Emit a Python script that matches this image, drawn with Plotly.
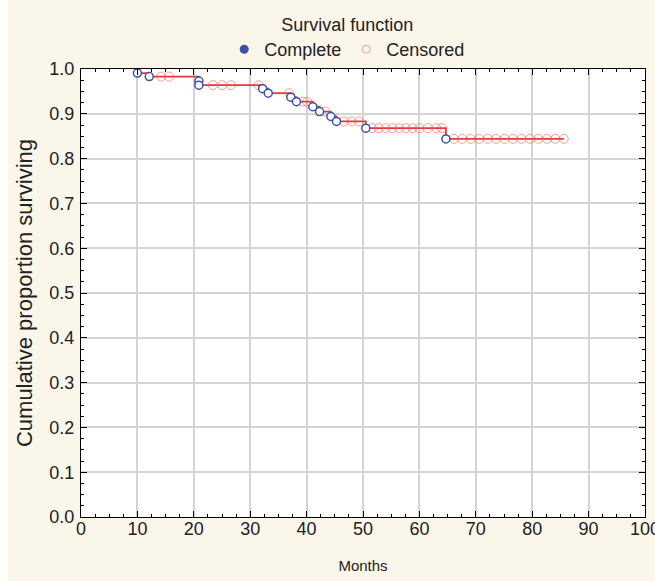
import plotly.graph_objects as go

# ---- data ----
event_months = [10.0, 12.1, 20.9, 20.9, 32.2, 33.2, 37.2, 38.2, 41.1, 42.3, 44.3, 45.3, 50.5, 64.7]
event_surv = [0.991, 0.983, 0.973, 0.964, 0.956, 0.946, 0.937, 0.927, 0.916, 0.905, 0.894, 0.883, 0.868, 0.844]

last_followup = 85.6

censored_months = [14.2, 15.6, 23.4, 25.0, 26.6, 31.5, 36.9, 39.3, 40.1, 43.3,
                   46.6, 48.0, 49.3,
                   51.6, 52.8, 54.0, 55.2, 56.4, 57.6, 58.8, 60.0, 61.5, 63.0, 64.0,
                   66.1, 67.6, 69.1, 70.6, 72.1, 73.6, 75.1, 76.6, 78.1, 79.6, 81.1, 82.6, 84.1, 85.6]
censored_surv = [0.983, 0.983, 0.964, 0.964, 0.964, 0.964, 0.946, 0.927, 0.927, 0.905,
                 0.883, 0.883, 0.883,
                 0.868, 0.868, 0.868, 0.868, 0.868, 0.868, 0.868, 0.868, 0.868, 0.868, 0.868,
                 0.844, 0.844, 0.844, 0.844, 0.844, 0.844, 0.844, 0.844, 0.844, 0.844, 0.844, 0.844, 0.844, 0.844]

x_ticks = [0, 10, 20, 30, 40, 50, 60, 70, 80, 90, 100]
y_ticks = [0.0, 0.1, 0.2, 0.3, 0.4, 0.5, 0.6, 0.7, 0.8, 0.9, 1.0]

title_text = "Survival function"
x_title = "Months"
y_title = "Cumulative proportion surviving"

RED = "#e8383a"
BLUE = "#3a52a6"
CENS = "rgba(238,80,80,0.55)"
CREAM = "#fbf6ea"
FONT = "Liberation Sans, Arial, sans-serif"

step_x = event_months + [last_followup]
step_y = event_surv + [event_surv[-1]]

fig = go.Figure()

fig.add_trace(go.Scatter(
    x=step_x, y=step_y, mode="lines", line=dict(color=RED, width=1.8, shape="hv"),
    showlegend=False, hoverinfo="skip"))

fig.add_trace(go.Scatter(
    x=censored_months, y=censored_surv, mode="markers",
    marker=dict(symbol="circle-open", size=9, color=CENS, line=dict(width=1)),
    showlegend=False))

fig.add_trace(go.Scatter(
    x=event_months, y=event_surv, mode="markers",
    marker=dict(symbol="circle", size=8, color="white", line=dict(color=BLUE, width=1.5)),
    showlegend=False))

# legend-only entries
fig.add_trace(go.Scatter(
    x=[None], y=[None], mode="markers", name="Complete",
    marker=dict(symbol="circle", size=9, color=BLUE)))
fig.add_trace(go.Scatter(
    x=[None], y=[None], mode="markers", name="Censored",
    marker=dict(symbol="circle-open", size=8, color=CENS, line=dict(width=1))))

fig.update_layout(
    width=647, height=581,
    margin=dict(l=73, r=10, t=69, b=64, autoexpand=False),
    paper_bgcolor=CREAM,
    plot_bgcolor="white",
    font=dict(family=FONT, size=18, color="#222222"),
    showlegend=True,
    legend=dict(
        orientation="h", x=0.472, xanchor="center", y=1.137, yanchor="top",
        title=dict(text=title_text, side="top center", font=dict(size=18)),
        font=dict(size=18), bgcolor="rgba(0,0,0,0)",
        itemwidth=30, tracegroupgap=0),
)

fig.update_xaxes(
    range=[0, 100], tickvals=x_ticks, ticktext=[str(v) for v in x_ticks],
    showgrid=True, gridcolor="#d4d4d4", gridwidth=2,
    showline=True, linecolor="black", linewidth=1, mirror="allticks",
    ticks="inside", ticklen=6, tickcolor="black", zeroline=False,
    minor=dict(dtick=2.5, ticks="inside", ticklen=3, tickcolor="black", showgrid=False),
    title=dict(text=x_title, font=dict(size=15), standoff=22),
    tickfont=dict(size=18), ticklabeloverflow="allow", automargin=False,
    ticklabelstandoff=-5,
)
fig.update_yaxes(
    range=[0, 1.0], tickvals=y_ticks, ticktext=[f"{v:.1f}" for v in y_ticks],
    showgrid=True, gridcolor="#d4d4d4", gridwidth=2,
    showline=True, linecolor="black", linewidth=1, mirror="allticks",
    ticks="inside", ticklen=6, tickcolor="black", zeroline=False,
    minor=dict(dtick=0.025, ticks="inside", ticklen=3, tickcolor="black", showgrid=False),
    title=dict(text=y_title, font=dict(size=22), standoff=10),
    tickfont=dict(size=18), ticklabeloverflow="allow", automargin=False,
    ticklabelstandoff=2,
)

# page layout: figure flush with the top of the window, 8px white strip on the left
fig.write_html("out.html", post_script="document.body.style.margin='0 0 0 8px';")
